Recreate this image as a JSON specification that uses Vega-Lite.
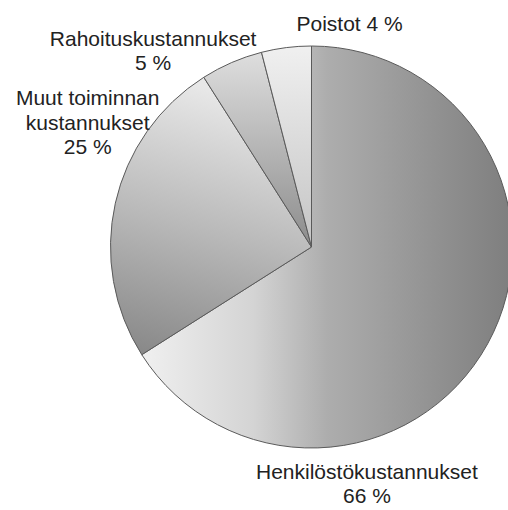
{
  "$schema": "https://vega.github.io/schema/vega-lite/v6.json",
  "autosize": {"type": "none"},
  "width": 393,
  "height": 402,
  "padding": {"left": 115, "top": 46, "right": 0, "bottom": 62},
  "background": "white",
  "view": {"stroke": null},
  "data": {
    "values": [
      {"category": "Henkilöstökustannukset", "label": "Henkilöstökustannukset\n66 %", "pct": 66, "order": 1},
      {"category": "Muut toiminnan kustannukset", "label": "Muut toiminnan\nkustannukset\n25 %", "pct": 25, "order": 2},
      {"category": "Rahoituskustannukset", "label": "Rahoituskustannukset\n5 %", "pct": 5, "order": 3},
      {"category": "Poistot", "label": "Poistot 4 %", "pct": 4, "order": 4}
    ]
  },
  "layer": [
    {
      "mark": {
        "type": "arc",
        "outerRadius": 201,
        "stroke": "#5a5a5a",
        "strokeWidth": 1,
        "fill": {"expr": "datum.category === 'Henkilöstökustannukset' ? {gradient: 'linear', x1: 0, y1: 0, x2: 1, y2: 0, stops: [{offset: 0, color: '#f0f0f0'}, {offset: 0.3, color: '#d4d4d4'}, {offset: 0.5, color: '#adadad'}, {offset: 1, color: '#7e7e7e'}]} : datum.category === 'Muut toiminnan kustannukset' ? {gradient: 'linear', x1: 0.3, y1: 0, x2: 0.1, y2: 1, stops: [{offset: 0, color: '#e8e8e8'}, {offset: 0.5, color: '#b9b9b9'}, {offset: 1, color: '#878787'}]} : datum.category === 'Rahoituskustannukset' ? {gradient: 'linear', x1: 0, y1: 0, x2: 0, y2: 1, stops: [{offset: 0, color: '#dedede'}, {offset: 1, color: '#8c8c8c'}]} : {gradient: 'linear', x1: 0, y1: 0, x2: 0, y2: 1, stops: [{offset: 0, color: '#f0f0f0'}, {offset: 1, color: '#c4c4c4'}]}"}
      },
      "encoding": {
        "theta": {"field": "pct", "type": "quantitative", "stack": true},
        "order": {"field": "order", "type": "quantitative"}
      }
    },
    {
      "mark": {
        "type": "text",
        "radius": 215,
        "align": "center",
        "baseline": "alphabetic",
        "font": "Liberation Sans",
        "fontSize": 21,
        "lineHeight": 24.5,
        "lineBreak": "\n",
        "fill": "#222222",
        "dx": {"expr": "datum.category === 'Henkilöstökustannukset' ? -133 : datum.category === 'Muut toiminnan kustannukset' ? -14 : datum.category === 'Rahoituskustannukset' ? -73 : 65"},
        "dy": {"expr": "datum.category === 'Henkilöstökustannukset' ? 128 : datum.category === 'Muut toiminnan kustannukset' ? -95 : datum.category === 'Rahoituskustannukset' ? -4 : -3"}
      },
      "encoding": {
        "theta": {"field": "pct", "type": "quantitative", "stack": true},
        "order": {"field": "order", "type": "quantitative"},
        "text": {"field": "label", "type": "nominal"}
      }
    }
  ]
}
